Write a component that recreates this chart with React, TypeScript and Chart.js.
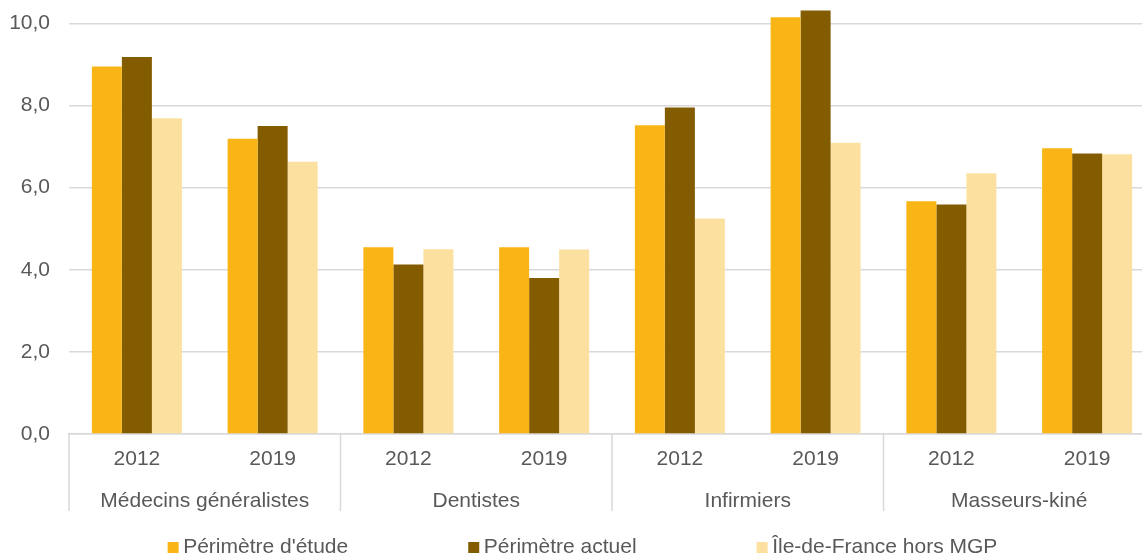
import React, { useEffect, useRef } from "react";
import { Chart, registerables } from "chart.js";

Chart.register(...registerables);

const yearLabels = ["2012", "2019", "2012", "2019", "2012", "2019", "2012", "2019"];
const groupLabels = ["Médecins généralistes", "Dentistes", "Infirmiers", "Masseurs-kiné"];
const seriesNames = ["Périmètre d'étude", "Périmètre actuel", "Île-de-France hors MGP"];
const perimetreEtude = [8.95, 7.19, 4.55, 4.55, 7.52, 10.15, 5.67, 6.96];
const perimetreActuel = [9.18, 7.5, 4.13, 3.8, 7.95, 10.31, 5.59, 6.83];
const idfHorsMGP = [7.69, 6.63, 4.5, 4.49, 5.25, 7.09, 6.35, 6.81];
const yTicks = [0, 2, 4, 6, 8, 10];

const COLORS = ["#F8B515", "#835C00", "#FCE0A0"];
const FONT = '"Liberation Sans", Arial, sans-serif';
const TEXT = "#595959";
const GRID = "#D9D9D9";

const groupPlugin = {
  id: "groupAxis",
  afterDraw(chart: any) {
    const { ctx, chartArea, scales } = chart;
    const x = scales.x;
    const bottom = chartArea.bottom;
    ctx.save();
    ctx.strokeStyle = GRID;
    ctx.lineWidth = 1.5;
    const seps = [chartArea.left];
    for (let g = 1; g < groupLabels.length; g++) {
      const i = g * 2;
      seps.push((x.getPixelForValue(i - 1) + x.getPixelForValue(i)) / 2);
    }
    seps.push(chartArea.right);
    seps.forEach((sx) => {
      ctx.beginPath();
      ctx.moveTo(sx, bottom);
      ctx.lineTo(sx, bottom + 77);
      ctx.stroke();
    });
    ctx.fillStyle = TEXT;
    ctx.font = `21px ${FONT}`;
    ctx.textAlign = "center";
    ctx.textBaseline = "alphabetic";
    groupLabels.forEach((g, k) => {
      const cx = (x.getPixelForValue(2 * k) + x.getPixelForValue(2 * k + 1)) / 2;
      ctx.fillText(g, cx, bottom + 73);
    });
    const box = 11;
    const gapText = 4.5;
    const gapItem = 120;
    const widths = seriesNames.map((n) => box + gapText + ctx.measureText(n).width);
    const total = widths.reduce((a, b) => a + b, 0) + gapItem * (seriesNames.length - 1);
    let lx = 582.5 - total / 2;
    const baseY = 552.5;
    ctx.textAlign = "left";
    seriesNames.forEach((n, i) => {
      ctx.fillStyle = chart.data.datasets[i].backgroundColor;
      ctx.fillRect(lx, baseY - 10.5, box, box);
      ctx.fillStyle = TEXT;
      ctx.fillText(n, lx + box + gapText, baseY);
      lx += widths[i] + gapItem;
    });
    ctx.restore();
  },
};

export default function App() {
  const ref = useRef<HTMLCanvasElement | null>(null);
  useEffect(() => {
    if (!ref.current) return;
    const chart = new Chart(ref.current, {
      type: "bar",
      data: {
        labels: yearLabels,
        datasets: [
          { label: seriesNames[0], data: perimetreEtude, backgroundColor: COLORS[0] },
          { label: seriesNames[1], data: perimetreActuel, backgroundColor: COLORS[1] },
          { label: seriesNames[2], data: idfHorsMGP, backgroundColor: COLORS[2] },
        ],
      },
      options: {
        responsive: false,
        animation: false,
        devicePixelRatio: 1,
        layout: { padding: 0 },
        datasets: { bar: { categoryPercentage: 0.663, barPercentage: 1 } },
        plugins: { legend: { display: false }, tooltip: { enabled: false } },
        scales: {
          x: {
            grid: { display: false, drawTicks: false },
            border: { display: true, color: GRID, width: 1.5 },
            ticks: { color: TEXT, font: { family: FONT, size: 21 }, padding: 13, maxRotation: 0 },
            afterFit: (s: any) => {
              s.height = 122;
              s.paddingLeft = 0;
              s.paddingRight = 0;
            },
          },
          y: {
            min: 0,
            max: 10.567,
            grid: { color: GRID, lineWidth: 1.5, drawTicks: false },
            border: { display: false },
            ticks: {
              color: TEXT,
              font: { family: FONT, size: 21 },
              padding: 19,
              callback: (v: any) => Number(v).toFixed(1).replace(".", ","),
            },
            afterBuildTicks: (s: any) => {
              s.ticks = yTicks.map((v) => ({ value: v }));
            },
            afterFit: (s: any) => {
              s.width = 69;
              s.paddingTop = 0;
              s.paddingBottom = 0;
            },
          },
        },
      },
      plugins: [groupPlugin],
    });
    return () => chart.destroy();
  }, []);
  return (
    <div style={{ position: "fixed", left: 0, top: 0, width: 1142, height: 556, overflow: "hidden", background: "#fff" }}>
      <canvas ref={ref} width={1155} height={556} style={{ display: "block", width: 1155, height: 556 }} />
    </div>
  );
}
